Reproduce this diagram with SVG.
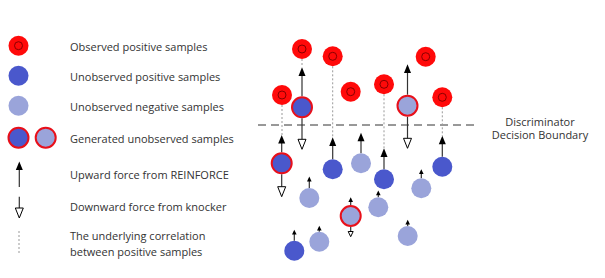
<svg xmlns="http://www.w3.org/2000/svg" width="605" height="278" viewBox="0 0 605 278">
<defs>
<style>
text{font-family:"Open Sans","Liberation Sans",Arial,sans-serif;font-size:11px;fill:#333}
.obs{fill:#ff0a0a}
.ring{fill:none;stroke:#8a0000;stroke-width:1}
.pos{fill:#4a58cc}
.neg{fill:#9aa4da}
.gen{stroke:#e8101a;stroke-width:2}
.cor{stroke:#999;stroke-width:1;stroke-dasharray:2,2;fill:none}
.shaft{stroke:#333;stroke-width:1.2;fill:none}
.head{fill:#000}
.open{fill:#fff;stroke:#000;stroke-width:1}
.bound{stroke:#333;stroke-width:1;stroke-dasharray:8,5;fill:none}
</style>
</defs>
<rect width="605" height="278" fill="#fff"/>

<g id="legend">
<g id="leg-obs"><circle class="obs" cx="18.5" cy="45.7" r="10"/><circle class="ring" cx="18.5" cy="45.7" r="4"/><text x="70" y="50.5">Observed positive samples</text></g>
<g id="leg-pos"><circle class="pos" cx="18.5" cy="75.7" r="10"/><text x="70" y="80.5">Unobserved positive samples</text></g>
<g id="leg-neg"><circle class="neg" cx="18.5" cy="105.7" r="10"/><text x="70" y="111">Unobserved negative samples</text></g>
<g id="leg-gen"><circle class="pos gen" cx="18.5" cy="137.7" r="10"/><circle class="neg gen" cx="45.7" cy="137.7" r="10"/><text x="70" y="143">Generated unobserved samples</text></g>
<g id="leg-up"><line class="shaft" x1="19.3" y1="187" x2="19.3" y2="168"/><polygon class="head" points="19.3,161.5 15.8,170 22.8,170"/><text x="70" y="179">Upward force from REINFORCE</text></g>
<g id="leg-down"><line class="shaft" x1="19.3" y1="196.7" x2="19.3" y2="208"/><polygon class="open" points="15.3,208 23.3,208 19.3,218"/><text x="70" y="211">Downward force from knocker</text></g>
<g id="leg-cor"><line class="cor" x1="19" y1="231" x2="19" y2="255"/><text x="70" y="239.5">The underlying correlation</text><text x="70" y="255.5">between positive samples</text></g>
</g>

<g id="connectors">
<line class="bound" x1="258" y1="125" x2="478" y2="125"/>
<line class="cor" x1="282" y1="105" x2="282" y2="135"/>
<line class="cor" x1="302" y1="59" x2="302" y2="67"/>
<line class="cor" x1="332.7" y1="66.3" x2="332.7" y2="137"/>
<line class="cor" x1="384" y1="94.3" x2="384" y2="148"/>
<line class="cor" x1="442.3" y1="107.3" x2="442.3" y2="136"/>
<!-- D arrows -->
<line class="shaft" x1="302" y1="96.3" x2="302" y2="74"/><polygon class="head" points="302,67.3 298.5,76 305.5,76"/>
<line class="shaft" x1="302" y1="118.3" x2="302" y2="139.3"/><polygon class="open" points="298,139.3 306,139.3 302,149.3"/>
<!-- H arrows -->
<line class="shaft" x1="407.5" y1="94.7" x2="407.5" y2="71"/><polygon class="head" points="407.5,64.3 404,73 411,73"/>
<line class="shaft" x1="407.5" y1="116.7" x2="407.5" y2="138.3"/><polygon class="open" points="403.5,138.3 411.5,138.3 407.5,148.3"/>
<!-- J arrows -->
<line class="shaft" x1="281.7" y1="152.3" x2="281.7" y2="142"/><polygon class="head" points="281.7,135 278.2,143.5 285.2,143.5"/>
<line class="shaft" x1="281.7" y1="174.3" x2="281.7" y2="186.7"/><polygon class="open" points="277.7,186.7 285.7,186.7 281.7,196.7"/>
<!-- K, L, N, P arrows -->
<line class="shaft" x1="332.7" y1="159.3" x2="332.7" y2="144"/><polygon class="head" points="332.7,137.3 329.2,146 336.2,146"/>
<line class="shaft" x1="361" y1="153.3" x2="361" y2="140"/><polygon class="head" points="361,132.7 357.5,141.3 364.5,141.3"/>
<line class="shaft" x1="384" y1="169.3" x2="384" y2="155"/><polygon class="head" points="384,148.3 380.5,157 387.5,157"/>
<line class="shaft" x1="442.3" y1="156.7" x2="442.3" y2="142"/><polygon class="head" points="442.3,135.7 438.8,144.3 445.8,144.3"/>
<!-- small arrows -->
<line class="shaft" x1="309.3" y1="188" x2="309.3" y2="180"/><polygon class="head" points="309.3,176.5 307,181.5 311.6,181.5"/>
<line class="shaft" x1="421.3" y1="178.3" x2="421.3" y2="172.5"/><polygon class="head" points="421.3,169.3 419,174 423.6,174"/>
<line class="shaft" x1="378.3" y1="197.3" x2="378.3" y2="194"/><polygon class="head" points="378.3,190.5 376,195.3 380.6,195.3"/>
<line class="shaft" x1="350.7" y1="205" x2="350.7" y2="200.5"/><polygon class="head" points="350.7,197.3 348.4,202 353,202"/>
<line class="shaft" x1="350.7" y1="227" x2="350.7" y2="231.5"/><polygon class="open" points="348.2,231.5 353.2,231.5 350.7,236.7"/>
<line class="shaft" x1="294.3" y1="240.7" x2="294.3" y2="233"/><polygon class="head" points="294.3,229.7 292,234.5 296.6,234.5"/>
<line class="shaft" x1="319.3" y1="231.7" x2="319.3" y2="229"/><polygon class="head" points="319.3,225.7 317,230.5 321.6,230.5"/>
<line class="shaft" x1="407.7" y1="226" x2="407.7" y2="223"/><polygon class="head" points="407.7,219.7 405.4,224.5 410,224.5"/>
</g>

<g id="obs-A"><circle class="obs" cx="302" cy="49" r="10"/><circle class="ring" cx="302" cy="49" r="4"/></g>
<g id="obs-B"><circle class="obs" cx="332.7" cy="56.3" r="10"/><circle class="ring" cx="332.7" cy="56.3" r="4"/></g>
<g id="obs-C"><circle class="obs" cx="282" cy="95" r="10"/><circle class="ring" cx="282" cy="95" r="4"/></g>
<g id="obs-E"><circle class="obs" cx="350.7" cy="91.7" r="10"/><circle class="ring" cx="350.7" cy="91.7" r="4"/></g>
<g id="obs-F"><circle class="obs" cx="384" cy="84.3" r="10"/><circle class="ring" cx="384" cy="84.3" r="4"/></g>
<g id="obs-G"><circle class="obs" cx="425.7" cy="56.7" r="10"/><circle class="ring" cx="425.7" cy="56.7" r="4"/></g>
<g id="obs-I"><circle class="obs" cx="442.3" cy="97.3" r="10"/><circle class="ring" cx="442.3" cy="97.3" r="4"/></g>

<g id="gen-D"><circle class="pos gen" cx="302" cy="107.3" r="10"/></g>
<g id="gen-H"><circle class="neg gen" cx="407.5" cy="105.7" r="10"/></g>
<g id="gen-J"><circle class="pos gen" cx="281.7" cy="163.3" r="10"/></g>
<g id="gen-R"><circle class="neg gen" cx="350.7" cy="216" r="10"/></g>

<g id="pos-K"><circle class="pos" cx="332.7" cy="169.3" r="10"/></g>
<g id="pos-N"><circle class="pos" cx="384" cy="179.3" r="10"/></g>
<g id="pos-P"><circle class="pos" cx="442.3" cy="166.7" r="10"/></g>
<g id="pos-U"><circle class="pos" cx="294.3" cy="250.7" r="10"/></g>

<g id="neg-L"><circle class="neg" cx="361" cy="163.3" r="10"/></g>
<g id="neg-M"><circle class="neg" cx="309.3" cy="198" r="10"/></g>
<g id="neg-O"><circle class="neg" cx="421.3" cy="188.3" r="10"/></g>
<g id="neg-S"><circle class="neg" cx="378.3" cy="207.3" r="10"/></g>
<g id="neg-V"><circle class="neg" cx="319.3" cy="241.7" r="10"/></g>
<g id="neg-W"><circle class="neg" cx="407.7" cy="236" r="10"/></g>

<g id="boundary-label">
<text x="540" y="125.5" text-anchor="middle">Discriminator</text>
<text x="540" y="139" text-anchor="middle">Decision Boundary</text>
</g>
</svg>
